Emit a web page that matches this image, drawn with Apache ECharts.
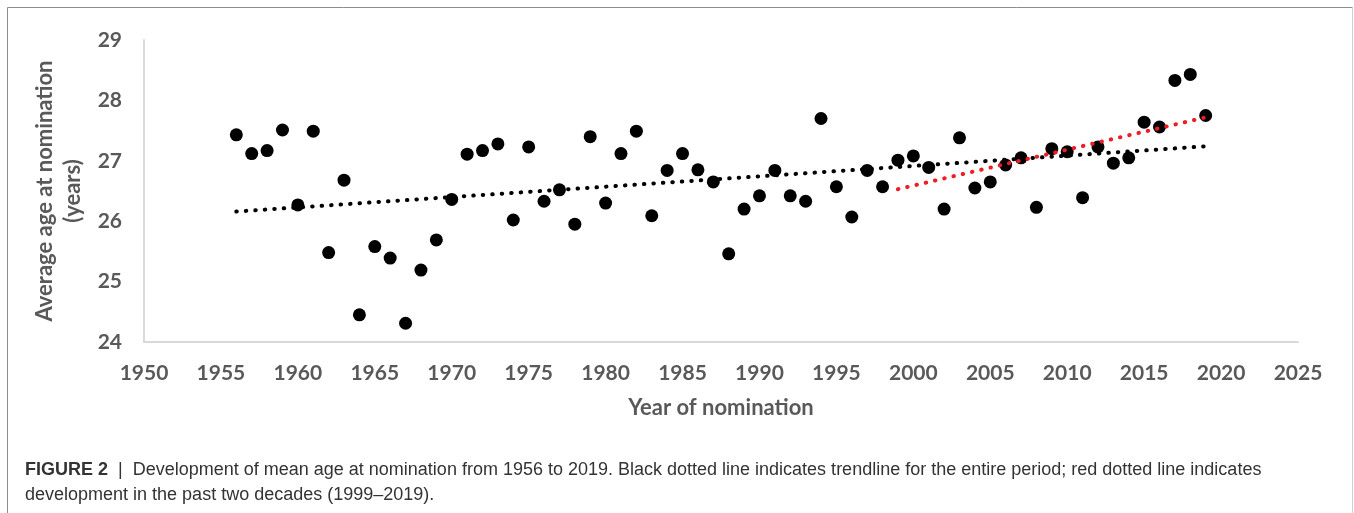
<!DOCTYPE html>
<html>
<head>
<meta charset="utf-8" />
<title>Mean age at nomination</title>
<script src="https://cdn.jsdelivr.net/npm/echarts@6/dist/echarts.min.js"></script>
<style>
  html, body { margin: 0; padding: 0; background: #fff; }
  #container { width: 1354px; height: 513px; }
</style>
</head>
<body>
<div id="container"></div>
<script>
// years of nomination and the mean age at nomination
var years = [1956, 1957, 1958, 1959, 1960, 1961, 1962, 1963, 1964, 1965, 1966, 1967, 1968, 1969,
  1970, 1971, 1972, 1973, 1974, 1975, 1976, 1977, 1978, 1979, 1980, 1981, 1982, 1983, 1984,
  1985, 1986, 1987, 1988, 1989, 1990, 1991, 1992, 1993, 1994, 1995, 1996, 1997, 1998, 1999,
  2000, 2001, 2002, 2003, 2004, 2005, 2006, 2007, 2008, 2009, 2010, 2011, 2012, 2013, 2014,
  2015, 2016, 2017, 2018, 2019];
var ages = [27.43, 27.12, 27.17, 27.51, 26.27, 27.49, 25.48, 26.68, 24.45, 25.58, 25.39, 24.31, 25.19, 25.69,
  26.36, 27.11, 27.17, 27.28, 26.02, 27.23, 26.33, 26.52, 25.95, 27.40, 26.30, 27.12, 27.49, 26.09, 26.84,
  27.12, 26.85, 26.65, 25.46, 26.20, 26.42, 26.84, 26.42, 26.33, 27.70, 26.57, 26.07, 26.84, 26.57, 27.01,
  27.08, 26.89, 26.20, 27.38, 26.55, 26.65, 26.93, 27.05, 26.23, 27.20, 27.15, 26.39, 27.23, 26.96, 27.05,
  27.64, 27.56, 28.33, 28.43, 27.75];

// trendline end points (whole period, and 1999-2019)
var trendAllX = [1956, 2019];
var trendAllY = [26.16, 27.24];
var trendRecentX = [1999, 2019];
var trendRecentY = [26.53, 27.72];

var xTicks = { min: 1950, max: 2025, step: 5 };
var yTicks = { min: 24, max: 29, step: 1 };

function pairs(xs, ys) {
  return xs.map(function (x, i) { return [x, ys[i]]; });
}

var dom = document.getElementById('container');
var myChart = echarts.init(dom, null, { renderer: 'canvas' });

var axisFont = 'Lato, "Open Sans", sans-serif';
var grey = '#595959';
var capFont = '"Liberation Sans", Arial, sans-serif';

var option = {
  animation: false,
  backgroundColor: '#fff',
  grid: { left: 144, right: 56, top: 40, bottom: 171, containLabel: false },
  xAxis: {
    type: 'value',
    min: xTicks.min, max: xTicks.max, interval: xTicks.step,
    name: 'Year of nomination',
    nameLocation: 'middle',
    nameGap: 55,
    nameTextStyle: { fontFamily: axisFont, fontWeight: 'bold', fontSize: 22, color: grey },
    axisLine: { show: true, lineStyle: { color: '#d9d9d9', width: 2 } },
    axisTick: { show: false },
    splitLine: { show: false },
    axisLabel: {
      fontFamily: axisFont, fontWeight: 'bold', fontSize: 21, color: grey, margin: 21,
      formatter: function (v) { return String(v); }
    }
  },
  yAxis: {
    type: 'value',
    min: yTicks.min, max: yTicks.max, interval: yTicks.step,
    name: 'Average age at nomination\n(years)',
    nameLocation: 'middle',
    nameGap: 41,
    nameTextStyle: { fontFamily: axisFont, fontWeight: 'bold', fontSize: 22, color: grey, lineHeight: 28 },
    axisLine: { show: true, lineStyle: { color: '#d9d9d9', width: 2 } },
    axisTick: { show: false },
    splitLine: { show: false },
    axisLabel: { fontFamily: axisFont, fontWeight: 'bold', fontSize: 21, color: grey, margin: 22 }
  },
  series: [
    {
      name: 'trend all',
      type: 'line',
      data: pairs(trendAllX, trendAllY),
      symbol: 'none',
      z: 3,
      lineStyle: { color: '#000', width: 4, type: [0.5, 9], cap: 'round' }
    },
    {
      name: 'trend recent',
      type: 'line',
      data: pairs(trendRecentX, trendRecentY),
      symbol: 'none',
      z: 3,
      lineStyle: { color: '#ee1c24', width: 4, type: [0.5, 9], cap: 'round' }
    },
    {
      name: 'mean age',
      type: 'scatter',
      data: pairs(years, ages),
      symbol: 'circle',
      symbolSize: 13,
      z: 2,
      itemStyle: { color: '#000', opacity: 1 }
    }
  ],
  graphic: [
    { type: 'line', shape: { x1: 7.5, y1: 7.5, x2: 1352.5, y2: 7.5 }, style: { stroke: '#8c8c8c', lineWidth: 1 } },
    { type: 'line', shape: { x1: 7.5, y1: 7.5, x2: 7.5, y2: 513 }, style: { stroke: '#8c8c8c', lineWidth: 1 } },
    { type: 'line', shape: { x1: 1352.5, y1: 7.5, x2: 1352.5, y2: 513 }, style: { stroke: '#d0d0d0', lineWidth: 1 } },
    {
      type: 'text', left: 25, top: 458,
      style: {
        text: '{b|FIGURE 2}{s|  |  }Development of mean age at nomination from 1956 to 2019. Black dotted line indicates trendline for the entire period; red dotted line indicates\ndevelopment in the past two decades (1999\u20132019).',
        font: '18px ' + capFont,
        fill: '#333',
        lineHeight: 25,
        rich: {
          b: { fontWeight: 'bold', fontSize: 18, fontFamily: capFont, fill: '#333', lineHeight: 25 },
          s: { fontSize: 18, fontFamily: capFont, fill: '#333', lineHeight: 25 }
        }
      }
    }
  ]
};

myChart.setOption(option);
</script>
</body>
</html>
